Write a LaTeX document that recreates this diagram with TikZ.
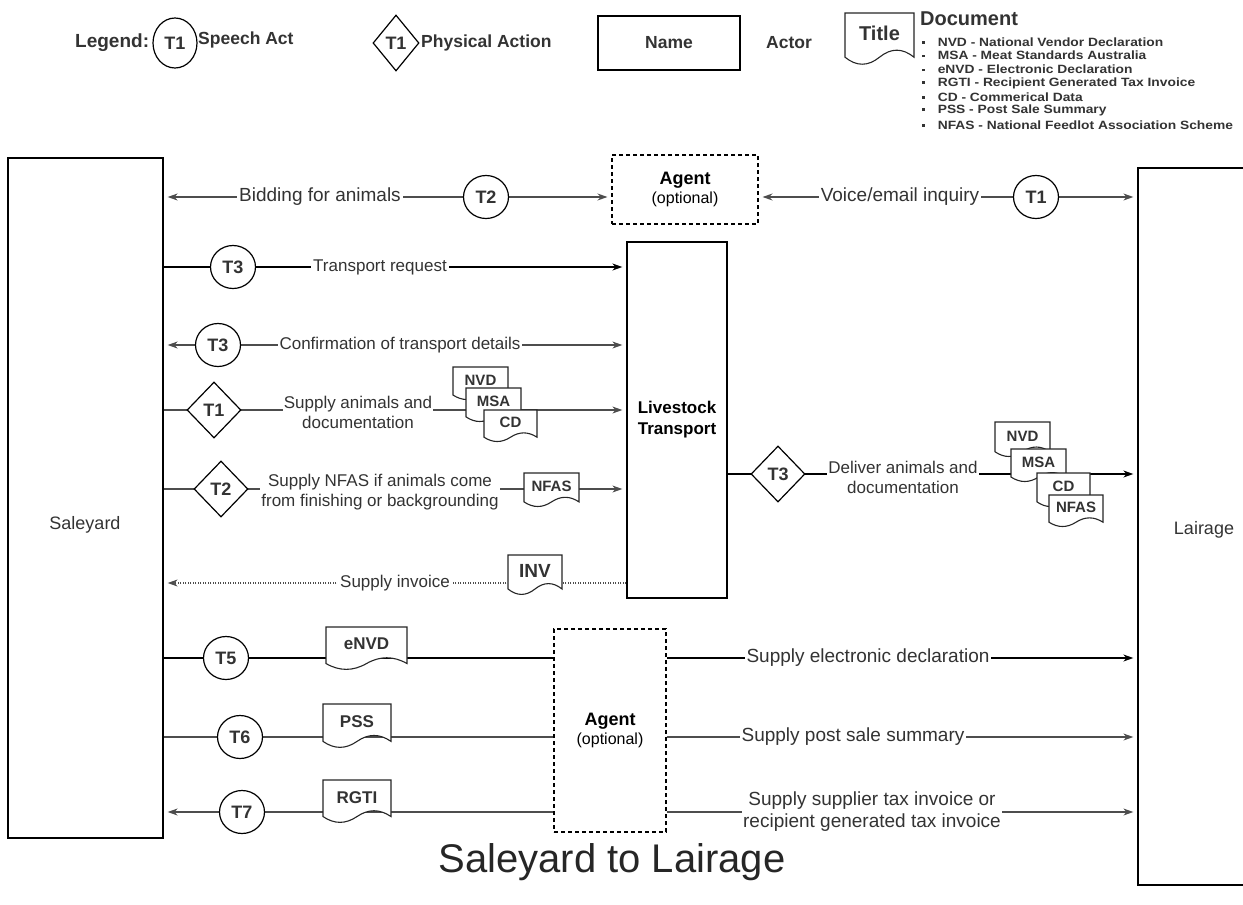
\documentclass[tikz,border=0pt]{standalone}
\usepackage{fontspec}
\setmainfont{Liberation Sans}
\usetikzlibrary{shapes.geometric,arrows.meta}
\pgfdeclarelayer{background}
\pgfsetlayers{background,main}
\definecolor{ln}{HTML}{4D4D4D}
\definecolor{tx}{HTML}{333333}

\newcommand\fsLab{\fontsize{17}{20}\selectfont}
\newcommand\fsBig{\fontsize{19}{22}\selectfont}
\newcommand\fsAct{\fontsize{18}{21}\selectfont}
\newcommand\fsLeg{\bfseries\fontsize{17.5}{21}\selectfont}
\newcommand\fsDoc{\bfseries\fontsize{15}{17}\selectfont}
\newcommand\fsList{\bfseries\fontsize{12}{14}\selectfont}
\newcommand\fsTitle{\fontsize{40}{46}\selectfont}

% document sheet with a wavy lower edge: name, left, top, width, height, label
\newcommand{\docsheet}[6]{%
  \path[docshape] ({#2},{#3}) -- ({#2+#4},{#3}) -- ({#2+#4},{#3+0.85*#5})
    .. controls ({#2+0.8333*#4},{#3+0.67*#5}) and ({#2+0.6667*#4},{#3+0.67*#5}) .. ({#2+0.5*#4},{#3+0.85*#5})
    .. controls ({#2+0.3333*#4},{#3+1.03*#5}) and ({#2+0.1667*#4},{#3+1.03*#5}) .. ({#2},{#3+0.85*#5}) -- cycle;
  \node[doctext] (#1) at ({#2+0.5*#4},{#3+0.4*#5}) {#6};
}
% one line of the abbreviation list
\newcommand{\listline}[3]{%
  \node[anchor=west, inner sep=0pt, text=tx, font=\fsList] (#1) at (922,#2)
    {\raisebox{2.6pt}{\rule{2.6pt}{2.6pt}}\hspace{13pt}\scalebox{1.15}[1]{#3}};
}

\begin{document}
\begin{tikzpicture}[x=1pt,y=-1pt,
  >={Stealth[length=10pt,width=7pt]},
  actor/.style={draw=black, line width=1.3pt, rectangle, inner sep=0pt},
  agentbox/.style={draw=black, line width=1.1pt, dash pattern=on 4pt off 3pt,
    rectangle, inner sep=0pt, align=center, font=\fsAct},
  speech/.style={ellipse, draw=black, line width=1.2pt, fill=white,
    minimum width=45pt, minimum height=43pt, inner sep=0pt, font=\bfseries\fontsize{18}{20}\selectfont, text=tx},
  physical/.style={diamond, draw=black, line width=1.2pt, fill=white,
    minimum width=54pt, minimum height=56pt, inner sep=0pt, font=\bfseries\fontsize{18}{20}\selectfont, text=tx},
  lbl/.style={fill=white, inner sep=2pt, text=tx, font=\fsLab, align=center},
  biglbl/.style={lbl, font=\fsBig},
  docshape/.style={draw=black!85, line width=1.1pt, fill=white},
  doctext/.style={inner sep=0pt, font=\fsDoc, text=tx},
  conn/.style={draw=ln, line width=1.2pt},
  connk/.style={draw=black, line width=1.3pt},
  dotconn/.style={draw=ln, line width=1.1pt, dash pattern=on 1pt off 1.5pt},
  tipend/.style={shorten >=4pt},
  tipstart/.style={shorten <=4pt},
  legtext/.style={anchor=west, inner sep=0pt, font=\fsLeg, text=tx}
]
\useasboundingbox (0,0) rectangle (1243,905);

% ---------------- legend ----------------
\node[legtext, font=\bfseries\fontsize{19}{22}\selectfont] (legword) at (75,43) {Legend:};
\node[speech, minimum width=44pt, minimum height=50pt] (legspeech) at (175,43) {T1};
\node[legtext] (legspeechtxt) at (198,40) {Speech Act};
\node[physical, minimum width=46pt, minimum height=56pt] (legphys) at (396,43) {T1};
\node[legtext] (legphystxt) at (421,43) {Physical Action};
\node[actor, minimum width=142pt, minimum height=54pt, font=\fsLeg, text=tx] (legname) at (669,43) {Name};
\node[legtext] (legactor) at (766,43) {Actor};
\docsheet{legdoc}{845}{13}{69}{52}{\fontsize{20}{22}\selectfont Title}
\node[anchor=west, inner sep=0pt, font=\bfseries\fontsize{20}{22}\selectfont, text=tx] (legdocword) at (920,19) {Document};
\listline{li1}{42}{NVD - National Vendor Declaration}
\listline{li2}{55.5}{MSA - Meat Standards Australia}
\listline{li3}{69.5}{eNVD - Electronic Declaration}
\listline{li4}{83}{RGTI - Recipient Generated Tax Invoice}
\listline{li5}{97}{CD - Commerical Data}
\listline{li6}{110.5}{PSS - Post Sale Summary}
\listline{li7}{125}{NFAS - National Feedlot Association Scheme}

% ---------------- actors ----------------
\node[actor, minimum width=155pt, minimum height=680pt] (saleyard) at (85.5,498) {};
\node[font=\fsAct, text=tx] (saleyardtxt) at (85,525) {Saleyard};
\node[actor, minimum width=112pt, minimum height=717pt] (lairage) at (1194,526.5) {};
\node[font=\fsAct, text=tx] (lairagetxt) at (1204,530) {Lairage};
\node[agentbox, minimum width=146pt, minimum height=69pt] (agent1) at (685,189.5)
  {\textbf{Agent}\\[-2pt]{\fontsize{16}{19}\selectfont (optional)}};
\node[actor, minimum width=100pt, minimum height=356pt, align=center,
  font=\bfseries\fontsize{17}{21}\selectfont] (livestock) at (677,420) {Livestock\\Transport};
\node[agentbox, minimum width=112pt, minimum height=203pt] (agent2) at (610,730.5)
  {\textbf{Agent}\\[-2pt]{\fontsize{16}{19}\selectfont (optional)}};

% ---------------- transactions: markers and labels ----------------
% bidding / inquiry
\node[biglbl] (lbid) at (320,197) {Bidding for animals};
\node[speech] (sT2) at (486,197) {T2};
\node[biglbl] (lvoice) at (900,197) {Voice/email inquiry};
\node[speech] (sT1) at (1036,197) {T1};
% transport request and confirmation
\node[speech] (sT3a) at (233,267) {T3};
\node[lbl] (lreq) at (380,267) {Transport request};
\node[speech] (sT3b) at (218,345) {T3};
\node[lbl] (lconf) at (400,345) {Confirmation of transport details};
% supply animals
\node[physical] (pT1) at (214,410) {T1};
\node[lbl, inner sep=1pt] (lsup) at (358,412) {Supply animals and\\documentation};
\docsheet{dNVDa}{453}{367}{55}{33}{NVD}
\docsheet{dMSAa}{466}{388}{55}{34}{MSA}
\docsheet{dCDa}{484}{410}{53}{32}{CD}
% NFAS
\node[physical] (pT2) at (221,489) {T2};
\node[lbl, inner sep=1pt] (lnfas) at (380,492) {Supply NFAS if animals come\\from finishing or backgrounding};
\docsheet{dNFASa}{524}{473}{55}{34}{NFAS}
% invoice
\node[lbl] (linv) at (395,583) {Supply invoice};
\docsheet{dINV}{508}{555}{54}{40}{\fontsize{19}{21}\selectfont INV}
% delivery to lairage
\node[physical] (pT3) at (778,474) {T3};
\node[lbl, inner sep=1pt] (ldel) at (903,477) {Deliver animals and\\documentation};
\docsheet{dNVDb}{995}{422}{55}{35}{NVD}
\docsheet{dMSAb}{1011}{449}{55}{33}{MSA}
\docsheet{dCDb}{1037}{473}{53}{34}{CD}
\docsheet{dNFASb}{1049}{495}{54}{32}{NFAS}
% electronic declaration, post sale summary, tax invoice
\node[speech] (sT5) at (226,658) {T5};
\docsheet{deNVD}{326}{627}{81}{43}{\fontsize{17}{19}\selectfont eNVD}
\node[biglbl] (lelec) at (868,658) {Supply electronic declaration};
\node[speech] (sT6) at (240,737) {T6};
\docsheet{dPSS}{323}{704}{68}{44}{\fontsize{17}{19}\selectfont PSS}
\node[biglbl] (lpss) at (853,737) {Supply post sale summary};
\node[speech] (sT7) at (242,812) {T7};
\docsheet{dRGTI}{323}{780}{68}{43}{\fontsize{17}{19}\selectfont RGTI}
\node[biglbl, inner sep=1pt] (ltax) at (872,812) {Supply supplier tax invoice or\\recipient generated tax invoice};

% title
\node[font=\fsTitle, text=black!85] (title) at (612,862) {Saleyard to Lairage};

% ---------------- connectors ----------------
\begin{pgfonlayer}{background}
  \draw[conn, <->, tipend, tipstart] (saleyard.east |- sT2) -- (agent1.west |- sT2);
  \draw[conn, <->, tipend, tipstart] (agent1.east |- sT1) -- (lairage.west |- sT1);
  \draw[connk, ->, tipend] (saleyard.east |- sT3a) -- (livestock.west |- sT3a);
  \draw[conn, <->, tipend, tipstart] (saleyard.east |- sT3b) -- (livestock.west |- sT3b);
  \draw[conn, ->, tipend] (saleyard.east |- pT1) -- (livestock.west |- pT1);
  \draw[conn, ->, tipend] (saleyard.east |- pT2) -- (livestock.west |- pT2);
  \draw[dotconn, ->, tipend] (livestock.west |- linv) -- (saleyard.east |- linv);
  \draw[connk, ->, tipend] (livestock.east |- pT3) -- (lairage.west |- pT3);
  \draw[connk] (saleyard.east |- sT5) -- (agent2.west |- sT5);
  \draw[connk, ->, tipend] (agent2.east |- sT5) -- (lairage.west |- sT5);
  \draw[conn] (saleyard.east |- sT6) -- (agent2.west |- sT6);
  \draw[conn, ->, tipend] (agent2.east |- sT6) -- (lairage.west |- sT6);
  \draw[conn, ->, tipend] (agent2.west |- sT7) -- (saleyard.east |- sT7);
  \draw[conn, ->, tipend] (agent2.east |- sT7) -- (lairage.west |- sT7);
\end{pgfonlayer}
\end{tikzpicture}
\end{document}
